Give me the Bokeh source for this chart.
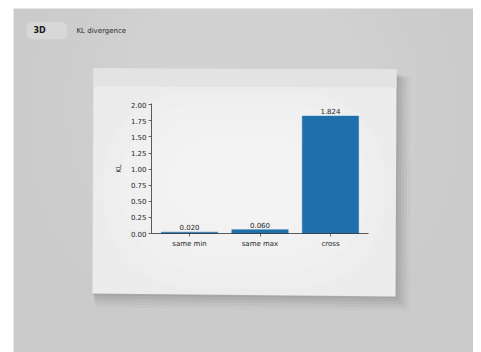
from bokeh.plotting import figure
from bokeh.models import (Range1d, FixedTicker, PolyAnnotation, BoxAnnotation,
                          Label, ColumnDataSource, NumeralTickFormatter)
from bokeh.core.properties import value
from bokeh.embed import file_html
from bokeh.resources import INLINE

# ---- data ----
categories = ["same min", "same max", "cross"]
kl_values = [0.020, 0.060, 1.824]
bar_labels = ["0.020", "0.060", "1.824"]
y_ticks = [0.0, 0.25, 0.5, 0.75, 1.0, 1.25, 1.5, 1.75, 2.0]
badge_text = "3D"
title_text = "KL divergence"
y_label = "KL"

FONT = "DejaVu Sans"
TXT = "#262626"

W, H = 460, 344
# chart area inside the canvas (pixels) and its data limits
CX0, CX1, CY_TOP, CY_BOT = 138, 355, 95, 225
XLO, XHI = -0.54, len(categories) - 1 + 0.54
YLO, YHI = 0.0, 2.02
sx = (CX1 - CX0) / (XHI - XLO)
sy = (CY_BOT - CY_TOP) / (YHI - YLO)
x_range = Range1d(XLO - CX0 / sx, XHI + (W - CX1) / sx)
y_range = Range1d(YLO - (H - CY_BOT) / sy, YHI + CY_TOP / sy)

p = figure(width=W, height=H, output_backend="svg", toolbar_location=None,
           x_range=x_range, y_range=y_range,
           min_border=0, background_fill_color="#cbcbcb", border_fill_color="#cbcbcb",
           outline_line_color=None, margin=(8, 0, 0, 13))
p.xgrid.visible = False
p.ygrid.visible = False

CU = dict(left_units="canvas", right_units="canvas", top_units="canvas", bottom_units="canvas")

# ---- scene: soft background light ----
for i in range(7):
    p.add_layout(BoxAnnotation(left=20 + 18 * i, right=440 - 18 * i, top=-80 + 8 * i, bottom=300 - 22 * i,
                               fill_color="white", fill_alpha=0.035, line_color=None, border_radius=150,
                               level="underlay", **CU))

# ---- card shadow ----
for k, a in [(14, 0.04), (11, 0.05), (8, 0.06), (5, 0.08), (2, 0.10)]:
    p.add_layout(PolyAnnotation(xs=[80 + k * 0.2, 383 + k, 382 + k, 79 + k * 0.2],
                                ys=[64 + k * 0.3, 65 + k * 0.3, 288 + k, 285 + k],
                                xs_units="canvas", ys_units="canvas",
                                fill_color="#4a4a4a", fill_alpha=a, line_color=None, level="underlay"))
# card body
p.add_layout(PolyAnnotation(xs=[80, 383, 382, 79], ys=[60, 61, 288, 285],
                            xs_units="canvas", ys_units="canvas",
                            fill_color="#ececec", fill_alpha=1.0, line_color="#e0e0e0", line_width=0.6,
                            level="underlay"))
for i in range(5):
    p.add_layout(BoxAnnotation(left=90 + 16 * i, right=372 - 16 * i, top=82 + 12 * i, bottom=280 - 16 * i,
                               fill_color="white", fill_alpha=0.12, line_color=None, border_radius=90,
                               level="underlay", **CU))
# card header strip
p.add_layout(PolyAnnotation(xs=[80, 383, 383, 80], ys=[60, 61, 79, 78],
                            xs_units="canvas", ys_units="canvas",
                            fill_color="#e3e3e3", fill_alpha=1.0, line_color=None, level="underlay"))

# ---- badge and title ----
p.add_layout(BoxAnnotation(left=13, right=54, top=13, bottom=31,
                           fill_color="#d7d7d7", fill_alpha=1.0, line_color="#c6c6c6", line_width=0.7,
                           border_radius=6, level="underlay", **CU))
p.add_layout(Label(x=20, y=22, x_units="canvas", y_units="canvas", text=badge_text,
                   text_font=FONT, text_font_size="8px", text_font_style="bold",
                   text_color="#1a1a1a", text_baseline="middle"))
p.add_layout(Label(x=63, y=22, x_units="canvas", y_units="canvas", text=title_text,
                   text_font=FONT, text_font_size="7px",
                   text_color="#2a2a2a", text_baseline="middle"))

# ---- bars ----
xs = list(range(len(categories)))
src = ColumnDataSource(dict(x=xs, top=kl_values, lab=bar_labels))
p.vbar(x="x", top="top", width=0.8, source=src, fill_color="#1f70aa", line_color="#1f70aa", line_width=0.5)
p.text(x="x", y="top", text="lab", source=src, text_align="center", text_baseline="bottom",
       y_offset=-2, text_font=value(FONT), text_font_size="7px", text_color=TXT)

# ---- axes (library axes, pinned to the chart area) ----
xa, ya = p.xaxis[0], p.yaxis[0]
xa.fixed_location = YLO
xa.bounds = (XLO, XHI)
xa.ticker = FixedTicker(ticks=xs)
xa.major_label_overrides = {i: c for i, c in zip(xs, categories)}
ya.fixed_location = XLO
ya.bounds = (YLO, YHI)
ya.ticker = FixedTicker(ticks=y_ticks)
ya.formatter = NumeralTickFormatter(format="0.00")
for ax in (xa, ya):
    ax.axis_line_color = "#333333"
    ax.axis_line_width = 0.8
    ax.major_tick_line_color = "#333333"
    ax.major_tick_line_width = 0.7
    ax.major_tick_out = 3
    ax.major_tick_in = 0
    ax.minor_tick_line_color = None
    ax.major_label_text_font = FONT
    ax.major_label_text_font_size = "7px"
    ax.major_label_text_color = TXT
    ax.major_label_standoff = 2
ya.axis_label = y_label
ya.axis_label_text_font = FONT
ya.axis_label_text_font_size = "7px"
ya.axis_label_text_font_style = "normal"
ya.axis_label_text_color = TXT
ya.axis_label_standoff = 5
xa.major_label_standoff = 3

open("out.html", "w").write(file_html(p, INLINE))
